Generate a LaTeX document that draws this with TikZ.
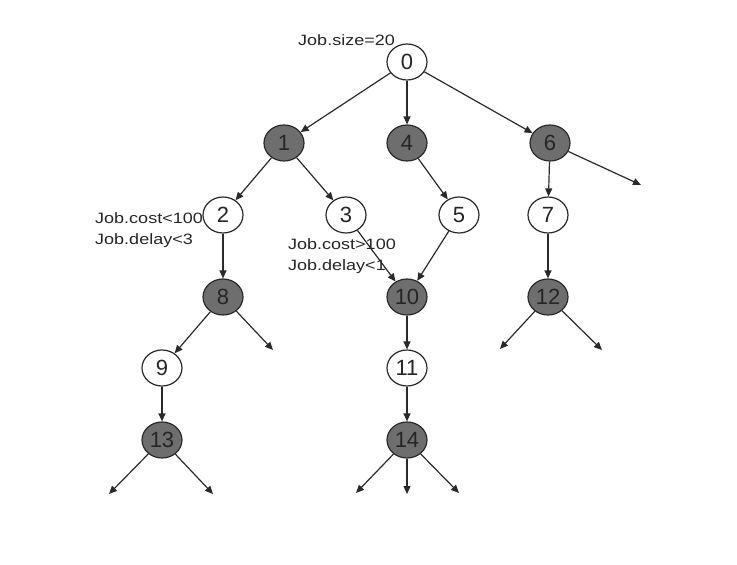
\documentclass[tikz,border=0pt]{standalone}
\usepackage{fontspec}
\usepackage{graphicx}
\setmainfont{Liberation Sans}
\usetikzlibrary{shapes.geometric,arrows.meta}
\definecolor{nodegrey}{HTML}{6E6E6E}
\definecolor{edgegrey}{HTML}{2A2A2A}
% slightly widened condition text
\newcommand{\condtext}[1]{\scalebox{1.2}[1]{\begin{tabular}{@{}l@{}}#1\end{tabular}}}
\begin{document}
\begin{tikzpicture}[x=1pt,y=-1pt,
  job/.style={ellipse,draw=edgegrey,line width=1.2pt,minimum width=40pt,minimum height=36pt,inner sep=0pt,font=\fontsize{22}{22}\selectfont,text=black!85},
  openjob/.style={job,fill=white},
  donejob/.style={job,fill=nodegrey},
  link/.style={draw=edgegrey,line width=1.2pt,-{Triangle[length=8pt,width=7pt]}},
  cond/.style={font=\fontsize{15}{21}\selectfont,inner sep=0pt,text=black!85}]
\useasboundingbox (0,0) rectangle (737,565);
% tree of jobs
\node[openjob] (n0) at (407,62) {0};
\node[donejob] (n1) at (284,143) {1};
\node[donejob] (n4) at (407,143) {4};
\node[donejob] (n6) at (550,143) {6};
\node[openjob] (n2) at (223,215) {2};
\node[openjob] (n3) at (346,215) {3};
\node[openjob] (n5) at (459,215) {5};
\node[openjob] (n7) at (548,215) {7};
\node[donejob] (n8) at (223,297) {8};
\node[donejob] (n10) at (407,297) {10};
\node[donejob] (n12) at (548,297) {12};
\node[openjob] (n9) at (162,368) {9};
\node[openjob] (n11) at (407,368) {11};
\node[donejob] (n13) at (162,440) {13};
\node[donejob] (n14) at (407,440) {14};
% open ends of the tree
\coordinate (e6) at (641,185);
\coordinate (e8) at (273,350);
\coordinate (e12a) at (500,349);
\coordinate (e12b) at (602,350);
\coordinate (e13a) at (109,494);
\coordinate (e13b) at (213,494);
\coordinate (e14a) at (356,493);
\coordinate (e14b) at (407,494);
\coordinate (e14c) at (459,493);
% edges
\path[link] (n0) -- (n1);
\path[link] (n0) -- (n4);
\path[link] (n0) -- (n6);
\path[link] (n1) -- (n2);
\path[link] (n1) -- (n3);
\path[link] (n4) -- (n5);
\path[link] (n6) -- (n7);
\path[link] (n6) -- (e6);
\path[link] (n2) -- (n8);
\path[link] (n3) -- (n10);
\path[link] (n5) -- (n10);
\path[link] (n7) -- (n12);
\path[link] (n8) -- (n9);
\path[link] (n8) -- (e8);
\path[link] (n10) -- (n11);
\path[link] (n12) -- (e12a);
\path[link] (n12) -- (e12b);
\path[link] (n9) -- (n13);
\path[link] (n11) -- (n14);
\path[link] (n13) -- (e13a);
\path[link] (n13) -- (e13b);
\path[link] (n14) -- (e14a);
\path[link] (n14) -- (e14b);
\path[link] (n14) -- (e14c);
% conditions
\node[cond,anchor=base east] (c0) at (395,45) {\scalebox{1.2}[1]{Job.size=20}};
\node[cond,anchor=east] (c2) at (203,230) {\condtext{Job.cost<100\\Job.delay<3}};
\node[cond,anchor=west] (c3) at (288,256) {\condtext{Job.cost>100\\Job.delay<1}};
\end{tikzpicture}
\end{document}
